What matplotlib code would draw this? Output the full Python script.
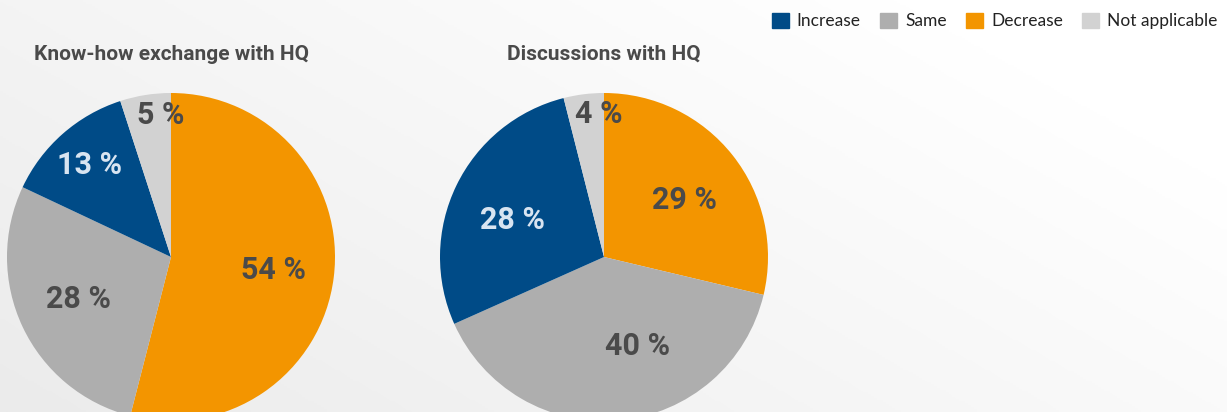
import numpy as np
import matplotlib
matplotlib.use("Agg")
import matplotlib.pyplot as plt
from matplotlib.patches import Rectangle

plt.rcParams['font.family'] = ['Roboto', 'DejaVu Sans']

# Survey answers, share of respondents (%)
categories = ["Decrease", "Same", "Increase", "Not applicable"]
titles = ["Know-how exchange with HQ", "Discussions with HQ"]
knowhow_values = [54, 28, 13, 5]
discussion_values = [29, 40, 28, 4]
legend_order = ["Increase", "Same", "Decrease", "Not applicable"]

colors = {"Decrease": "#F39500", "Same": "#AEAEAE",
          "Increase": "#004B87", "Not applicable": "#D2D2D2"}
label_colors = {"Decrease": "#4A4A4A", "Same": "#4A4A4A",
                "Increase": "#D8E4F1", "Not applicable": "#4A4A4A"}

W, H = 1227, 412
fig = plt.figure(figsize=(W / 100, H / 100), dpi=100)

# soft diagonal background gradient
bg = fig.add_axes([0, 0, 1, 1])
yy, xx = np.mgrid[0:1:200j, 0:1:400j]
t = np.clip((xx * 0.75 + yy * 0.45), 0, 1)
bg.imshow(1 - t, cmap=matplotlib.colors.LinearSegmentedColormap.from_list(
    "bg", ["#FFFFFF", "#EBEBEB"]), extent=[0, W, 0, H], origin="lower",
    aspect="auto", vmin=0, vmax=1)
bg.set_xlim(0, W)
bg.set_ylim(0, H)
bg.axis("off")

ax = fig.add_axes([0, 0, 1, 1])
ax.set_facecolor("none")

radius = 164
centers = [(171, H - 257), (604, H - 257)]
datasets = [knowhow_values, discussion_values]
# per-slice label radius factor and angle nudge (deg)
label_r = [[0.63, 0.62, 0.75, 0.87], [0.60, 0.58, 0.60, 0.87]]
label_da = [[0, -1, 0, -5], [-3, 15, 4, -5]]

for (cx, cy), vals, title, lr, lda in zip(centers, datasets, titles, label_r, label_da):
    wedges, _ = ax.pie(vals, colors=[colors[c] for c in categories],
                       startangle=90, counterclock=False, center=(cx, cy),
                       radius=radius, wedgeprops=dict(linewidth=0))
    for w, v, c, f, da in zip(wedges, vals, categories, lr, lda):
        mid = np.deg2rad((w.theta1 + w.theta2) / 2 + da)
        ax.text(cx + f * radius * np.cos(mid), cy + f * radius * np.sin(mid),
                f"{v} %", ha="center", va="center", fontsize=22,
                fontweight="bold", color=label_colors[c])
    ax.text(cx, H - 54, title, ha="center", va="center", fontsize=15,
            fontweight="bold", color="#4A4A4A")

ax.set_xlim(0, W)
ax.set_ylim(0, H)
ax.set_aspect("auto")
ax.axis("off")

# legend row in the top right corner
handles = [Rectangle((0, 0), 1, 1, color=colors[c]) for c in legend_order]
fig.legend(handles, legend_order, loc="upper right", bbox_to_anchor=(1.005, 1.007),
           ncol=4, frameon=False, handlelength=1.0, handleheight=1.0,
           handletextpad=0.45, columnspacing=1.1, labelcolor="#222222",
           prop={"family": ["Lato", "DejaVu Sans"], "size": 12.5})

fig.savefig("out.png", dpi=100)
